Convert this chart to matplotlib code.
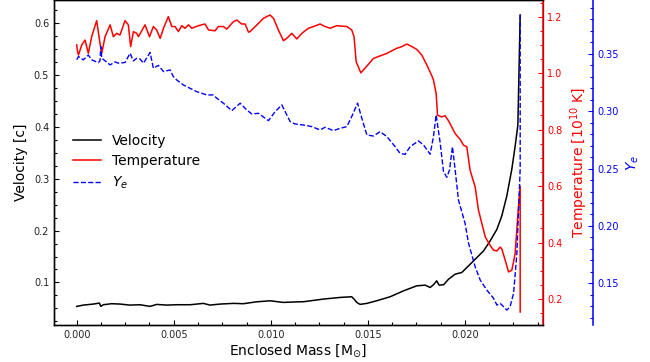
import matplotlib
matplotlib.use("Agg")
import matplotlib.pyplot as plt
from matplotlib.ticker import MultipleLocator
from matplotlib.lines import Line2D

# ---------------- data ----------------
vel_mass = [0.0, 0.00034, 0.00086, 0.00117, 0.00124, 0.00137, 0.00180, 0.00223, 0.00275,
            0.00326, 0.00378, 0.00412, 0.00464, 0.00515, 0.00584, 0.00653, 0.00687, 0.00739,
            0.00807, 0.00859, 0.00928, 0.00996, 0.01065, 0.01134, 0.01168, 0.01271, 0.01357,
            0.01417, 0.01429, 0.01443, 0.01460, 0.01495, 0.01546, 0.01615, 0.01684, 0.01752,
            0.01795, 0.01821, 0.01838, 0.01855, 0.01867, 0.01890, 0.01916, 0.01950, 0.01984,
            0.02010, 0.02062, 0.02096, 0.02130, 0.02165, 0.02190, 0.02216, 0.02242, 0.02259,
            0.02273, 0.02285]
velocity = [0.0538, 0.0563, 0.0583, 0.0602, 0.0538, 0.0570, 0.0590, 0.0583, 0.0563,
            0.0570, 0.0538, 0.0576, 0.0563, 0.0570, 0.0570, 0.0596, 0.0563, 0.0583,
            0.0596, 0.0590, 0.0627, 0.0646, 0.0615, 0.0625, 0.0628, 0.0679, 0.0711,
            0.0724, 0.0679, 0.0615, 0.0577, 0.0596, 0.0647, 0.0724, 0.0838, 0.0935,
            0.0948, 0.0903, 0.0955, 0.1031, 0.0948, 0.0955, 0.1063, 0.1160, 0.1192,
            0.1288, 0.1481, 0.1608, 0.1800, 0.2025, 0.2281, 0.2667, 0.3187, 0.3627,
            0.4035, 0.6160]

temp_mass = [0.0, 0.00003, 0.00009, 0.00026, 0.00043, 0.00060, 0.00077, 0.00103, 0.00120,
             0.00129, 0.00146, 0.00172, 0.00189, 0.00206, 0.00223, 0.00249, 0.00266, 0.00278,
             0.00292, 0.00309, 0.00318, 0.00352, 0.00375, 0.00395, 0.00412, 0.00430, 0.00447,
             0.00472, 0.00490, 0.00507, 0.00524, 0.00541, 0.00558, 0.00576, 0.00593, 0.00627,
             0.00661, 0.00679, 0.00713, 0.00730, 0.00756, 0.00773, 0.00807, 0.00825, 0.00850,
             0.00868, 0.00885, 0.00893, 0.00911, 0.00962, 0.00996, 0.01014, 0.01039, 0.01065,
             0.01082, 0.01108, 0.01134, 0.01160, 0.01194, 0.01220, 0.01254, 0.01280, 0.01306,
             0.01340, 0.01392, 0.01417, 0.01429, 0.01440, 0.01464, 0.01495, 0.01529, 0.01563,
             0.01598, 0.01649, 0.01675, 0.01701, 0.01727, 0.01752, 0.01778, 0.01804, 0.01830,
             0.01838, 0.01852, 0.01859, 0.01881, 0.01898, 0.01916, 0.01950, 0.01976, 0.01993,
             0.02010, 0.02027, 0.02053, 0.02070, 0.02105, 0.02130, 0.02148, 0.02165, 0.02182,
             0.02190, 0.02208, 0.02225, 0.02242, 0.02259, 0.02276, 0.02285, 0.02285]
temperature = [1.100, 1.082, 1.064, 1.100, 1.117, 1.070, 1.129, 1.186, 1.106,
               1.070, 1.129, 1.171, 1.129, 1.141, 1.135, 1.186, 1.171, 1.094,
               1.147, 1.141, 1.129, 1.171, 1.129, 1.165, 1.153, 1.123, 1.159,
               1.200, 1.165, 1.165, 1.147, 1.168, 1.159, 1.171, 1.159, 1.168,
               1.174, 1.153, 1.150, 1.165, 1.165, 1.156, 1.182, 1.188, 1.174,
               1.174, 1.145, 1.147, 1.159, 1.194, 1.206, 1.194, 1.153, 1.115,
               1.123, 1.141, 1.121, 1.141, 1.159, 1.165, 1.174, 1.165, 1.159,
               1.168, 1.165, 1.153, 1.129, 1.040, 1.001, 1.025, 1.052, 1.061,
               1.070, 1.088, 1.094, 1.103, 1.094, 1.084, 1.064, 1.029, 0.990,
               0.976, 0.928, 0.851, 0.845, 0.849, 0.831, 0.786, 0.765, 0.745,
               0.739, 0.656, 0.597, 0.515, 0.420, 0.390, 0.373, 0.370, 0.384,
               0.378, 0.337, 0.296, 0.302, 0.361, 0.526, 0.600, 0.154]

ye_mass = [0.0, 0.00009, 0.00034, 0.00060, 0.00077, 0.00112, 0.00120, 0.00124, 0.00129,
           0.00146, 0.00172, 0.00198, 0.00215, 0.00249, 0.00275, 0.00292, 0.00309, 0.00326,
           0.00344, 0.00378, 0.00395, 0.00421, 0.00447, 0.00481, 0.00498, 0.00515, 0.00550,
           0.00584, 0.00618, 0.00670, 0.00704, 0.00722, 0.00756, 0.00799, 0.00842, 0.00876,
           0.00902, 0.00936, 0.00988, 0.01022, 0.01057, 0.01100, 0.01125, 0.01168, 0.01211,
           0.01254, 0.01280, 0.01323, 0.01357, 0.01392, 0.01417, 0.01447, 0.01469, 0.01495,
           0.01529, 0.01563, 0.01598, 0.01641, 0.01666, 0.01692, 0.01718, 0.01761, 0.01787,
           0.01821, 0.01838, 0.01852, 0.01873, 0.01890, 0.01907, 0.01921, 0.01936, 0.01950,
           0.01967, 0.02001, 0.02019, 0.02053, 0.02079, 0.02113, 0.02148, 0.02165, 0.02182,
           0.02199, 0.02216, 0.02233, 0.02251, 0.02268, 0.02276, 0.02285, 0.02285]
ye = [0.3450, 0.3477, 0.3448, 0.3490, 0.3448, 0.3424, 0.3440, 0.3564, 0.3462,
      0.3440, 0.3404, 0.3430, 0.3419, 0.3425, 0.3506, 0.3439, 0.3462, 0.3456,
      0.3419, 0.3512, 0.3375, 0.3400, 0.3346, 0.3360, 0.3302, 0.3273, 0.3229,
      0.3200, 0.3171, 0.3142, 0.3142, 0.3113, 0.3070, 0.3005, 0.3070, 0.3012,
      0.2976, 0.2982, 0.2918, 0.2996, 0.3055, 0.2909, 0.2889, 0.2880, 0.2866,
      0.2837, 0.2860, 0.2831, 0.2851, 0.2866, 0.2953, 0.3070, 0.2939, 0.2793,
      0.2784, 0.2822, 0.2779, 0.2691, 0.2633, 0.2624, 0.2691, 0.2741, 0.2706,
      0.2625, 0.2778, 0.2968, 0.2721, 0.2473, 0.2424, 0.2488, 0.2691, 0.2488,
      0.2226, 0.2023, 0.1848, 0.1644, 0.1528, 0.1441, 0.1368, 0.1310, 0.1325,
      0.1296, 0.1266, 0.1296, 0.1412, 0.1761, 0.2110, 0.2500, 0.3840]

# ---------------- figure ----------------
fig = plt.figure(figsize=(6.5, 3.62), dpi=100)
ax1 = fig.add_axes([54/650, 37/362, (542.5-54)/650, 325/362])
ax2 = ax1.twinx()
ax3 = ax1.twinx()
ax3.spines['right'].set_position(('outward', 36))

TICK_FS = 7
LW = 1.1

l1, = ax1.plot(vel_mass, velocity, color='black', lw=LW)
l2, = ax2.plot(temp_mass, temperature, color='red', lw=LW)
l3, = ax3.plot(ye_mass, ye, color='blue', lw=1.0, ls='--')

ax1.set_xlim(-0.00117, 0.0240)
ax1.set_ylim(0.0179, 0.645)
ax2.set_ylim(0.108, 1.259)
ax3.set_ylim(0.1136, 0.397)

ax1.xaxis.set_major_locator(MultipleLocator(0.005))
ax1.xaxis.set_minor_locator(MultipleLocator(0.00125))
ax1.yaxis.set_major_locator(MultipleLocator(0.1))
ax1.yaxis.set_minor_locator(MultipleLocator(0.025))
ax2.yaxis.set_major_locator(MultipleLocator(0.2))
ax2.yaxis.set_minor_locator(MultipleLocator(0.05))
ax3.yaxis.set_major_locator(MultipleLocator(0.05))
ax3.yaxis.set_minor_locator(MultipleLocator(0.01))

for ax in (ax1,):
    ax.tick_params(which='both', direction='in', labelsize=TICK_FS, colors='black',
                   labelcolor='#222222')
    ax.tick_params(which='major', length=3.5, width=0.8)
    ax.tick_params(which='minor', length=2.5, width=0.8)
    ax.tick_params(axis='x', which='both', top=False)
    ax.tick_params(axis='y', which='both', right=False)

ax2.tick_params(axis='y', which='both', direction='in', labelsize=TICK_FS,
                colors='red', width=0.8)
ax2.tick_params(axis='y', which='major', length=3.5)
ax2.tick_params(axis='y', which='minor', length=2.5)
ax3.tick_params(axis='y', which='both', direction='in', labelsize=TICK_FS,
                colors='blue', width=0.8)
ax3.tick_params(axis='y', which='major', length=3.5)
ax3.tick_params(axis='y', which='minor', length=2.5)

ax2.spines['right'].set_color('red')
ax3.spines['right'].set_color('blue')
for ax in (ax1, ax2, ax3):
    for s in ax.spines.values():
        s.set_linewidth(0.9)
ax2.spines['right'].set_linewidth(1.1)
ax3.spines['right'].set_linewidth(1.1)

ax1.set_xlabel(r'Enclosed Mass [M$_{\odot}$]', fontsize=10, labelpad=2)
ax1.set_ylabel('Velocity [c]', fontsize=10)
ax2.set_ylabel(r'Temperature [10$^{10}$ K]', fontsize=10, color='red', labelpad=4)
ax3.set_ylabel(r'$Y_e$', fontsize=10, color='blue', labelpad=4)

leg = ax3.legend([l1, l2, l3], ['Velocity', 'Temperature', r'$Y_e$'],
                 loc='center left', bbox_to_anchor=(0.0143, 0.50), frameon=False,
                 fontsize=10, handlelength=2.0, labelspacing=0.45, borderpad=0.4)

fig.savefig('out.png', dpi=100)
